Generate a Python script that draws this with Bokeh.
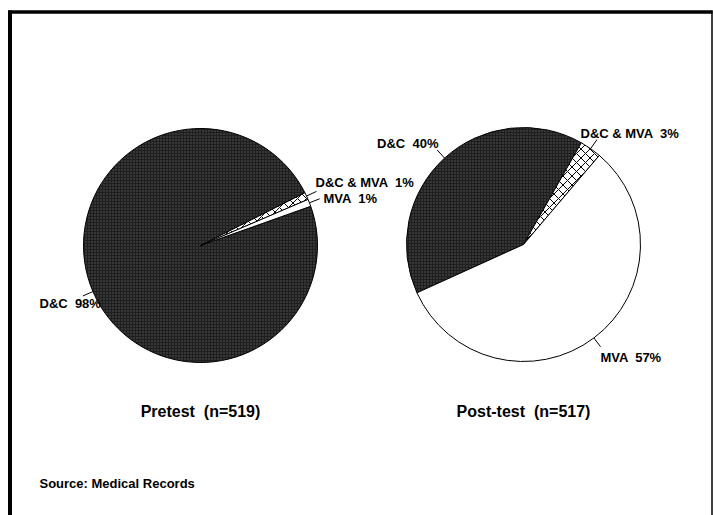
import math
from bokeh.plotting import figure
from bokeh.models import Range1d
from bokeh.core.properties import value
from bokeh.embed import file_html
from bokeh.resources import INLINE

# ---- data ----
categories = ["D&C", "D&C & MVA", "MVA"]
pretest_values = [98, 1, 1]
posttest_values = [40, 3, 57]
pie_titles = ["Pretest \u00a0(n=519)", "Post-test \u00a0(n=517)"]
source_text = "Source: Medical Records"

# ---- layout / styles ----
W, H = 713, 515
FONT = value("Liberation Sans")


def Y(py):
    # page pixel row -> data y
    return 515 - py


p = figure(width=W, height=H, output_backend="svg", toolbar_location=None,
           x_range=Range1d(0, W), y_range=Range1d(515 - H, 515),
           min_border=0, outline_line_color=None)
p.axis.visible = False
p.grid.visible = False
p.background_fill_color = "white"
p.border_fill_color = "white"

# frame
p.segment(x0=[9.5], y0=[Y(10)], x1=[9.5], y1=[Y(515)], line_color="black", line_width=4)
p.segment(x0=[7.5], y0=[Y(11.5)], x1=[712], y1=[Y(11.5)], line_color="black", line_width=3.5)
p.segment(x0=[711.5], y0=[Y(10)], x1=[711.5], y1=[Y(515)], line_color="black", line_width=1.5)

fills = ["#1f1f1f", "white", "white"]
hatches = ["dot", "diagonal_cross", "blank"]
hatch_colors = ["#5a5a5a", "black", "black"]
hatch_scales = [3, 9, 1]

pies = [
    dict(values=pretest_values, cx=200, cy=245, r=117, start=379.6,
         labels=[(39, 303, "left"), (315, 182, "left"), (323, 198, "left")],
         title_pos=(200, 411)),
    dict(values=posttest_values, cx=523, cy=244, r=117, start=204.4,
         labels=[(438, 143, "right"), (580, 133, "left"), (600, 357, "left")],
         title_pos=(523, 411)),
]

for pie, title in zip(pies, pie_titles):
    a = pie["start"]
    cx, cy, r = pie["cx"], Y(pie["cy"]), pie["r"]
    for i, (cat, v) in enumerate(zip(categories, pie["values"])):
        span = v / 100 * 360
        p.wedge(x=[cx], y=[cy], radius=r,
                start_angle=math.radians(a), end_angle=math.radians(a - span),
                direction="clock", fill_color=fills[i],
                hatch_pattern=hatches[i], hatch_color=hatch_colors[i],
                hatch_scale=hatch_scales[i], hatch_weight=1,
                line_color="black", line_width=1)
        m = math.radians(a - span / 2)
        p.segment(x0=[cx + r * math.cos(m)], y0=[cy + r * math.sin(m)],
                  x1=[cx + (r + 11) * math.cos(m)], y1=[cy + (r + 11) * math.sin(m)],
                  line_color="black", line_width=1)
        lx, ly, al = pie["labels"][i]
        p.text(x=[lx], y=[Y(ly)], text=[f"{cat} \u00a0{v}%"], text_font=FONT,
               text_font_style="bold", text_font_size="13px", text_align=al,
               text_baseline="middle", text_color="black")
        a -= span
    tx, ty = pie["title_pos"]
    p.text(x=[tx], y=[Y(ty)], text=[title], text_font=FONT, text_font_style="bold",
           text_font_size="16px", text_align="center", text_baseline="middle",
           text_color="black")

p.text(x=[39], y=[Y(483)], text=[source_text], text_font=FONT, text_font_style="bold",
       text_font_size="13px", text_align="left", text_baseline="middle",
       text_color="black")

open("out.html", "w").write(file_html(p, INLINE))
